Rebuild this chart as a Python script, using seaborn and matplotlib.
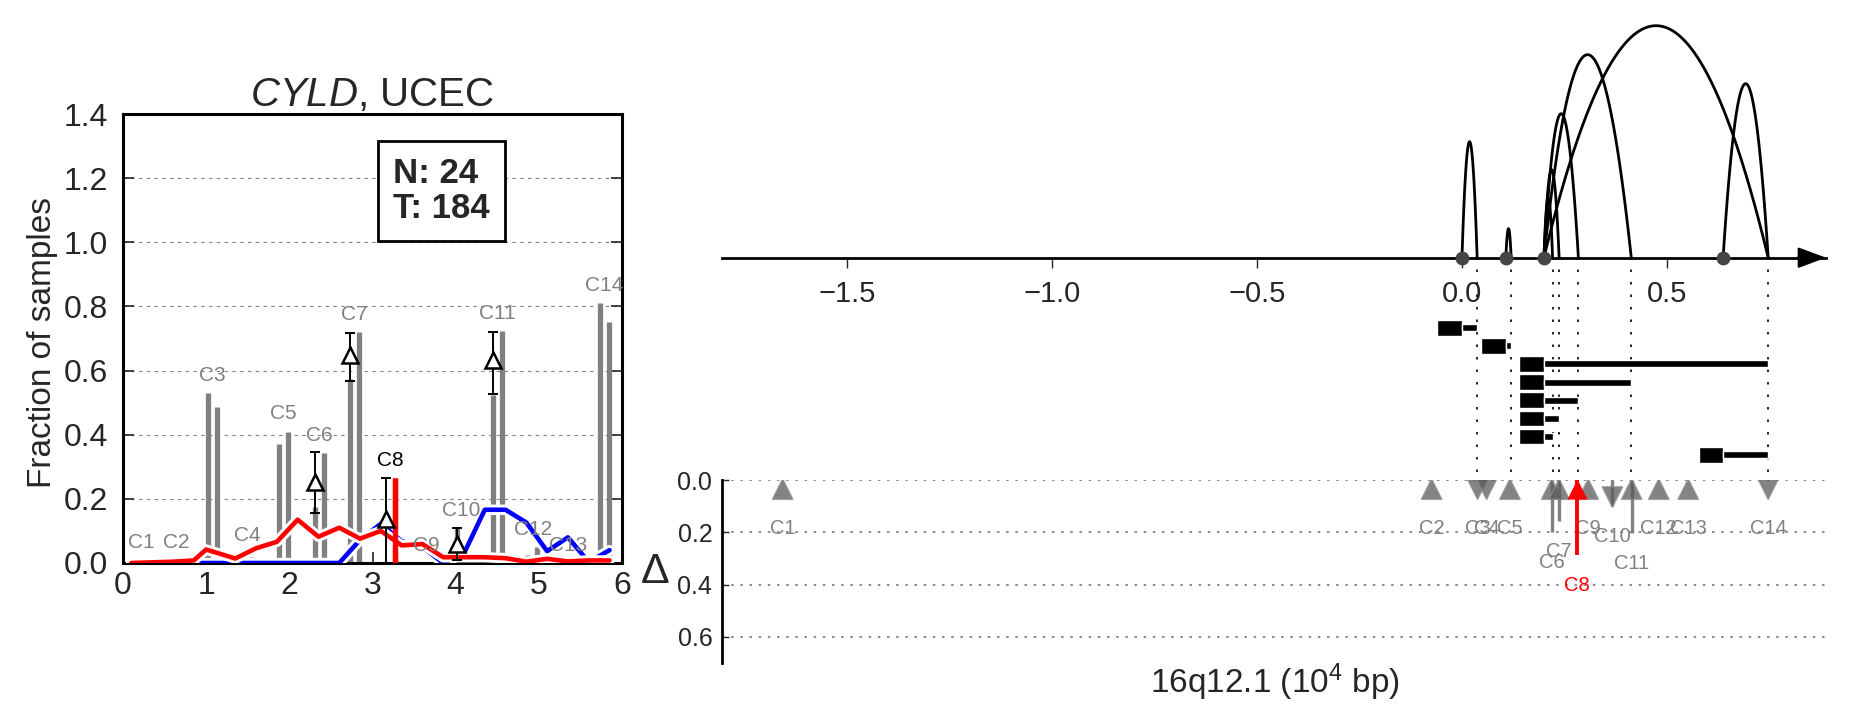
import numpy as np
import pandas as pd
import matplotlib
matplotlib.use("Agg")
import matplotlib.pyplot as plt
import matplotlib.patheffects as pe
import seaborn as sns

sns.set_theme(style="ticks")
plt.rcParams['font.family'] = ['Liberation Sans', 'DejaVu Sans']
plt.rcParams['mathtext.fontset'] = 'custom'
plt.rcParams['mathtext.rm'] = 'Liberation Sans'
plt.rcParams['mathtext.it'] = 'Liberation Sans:italic'

## left panel data
clusters = ['C1', 'C2', 'C3', 'C4', 'C5', 'C6', 'C7', 'C8', 'C9', 'C10', 'C11', 'C12', 'C13', 'C14']
frac_normal = [0.01, 0.01, 0.53, 0.03, 0.37, 0.176, 0.575, 0.0, 0.0, 0.108, 0.524, 0.025, 0.0, 0.81]
frac_tumor = [0.0, 0.0, 0.485, 0.02, 0.41, 0.344, 0.72, 0.264, 0.0, 0.01, 0.722, 0.05, 0.0, 0.75]
signif = ['C8']

mark_clusters = ['C6', 'C7', 'C8', 'C10', 'C11']
mark_mid = [0.254, 0.649, 0.136, 0.06, 0.633]
mark_lo = [0.155, 0.569, 0.0, 0.01, 0.526]
mark_hi = [0.347, 0.718, 0.265, 0.108, 0.721]

bin_x = [0.1, 0.35, 0.6, 0.85, 1.0, 1.35, 1.6, 1.85, 2.1, 2.35, 2.6, 2.85,
         3.1, 3.35, 3.6, 3.85, 4.1, 4.35, 4.6, 4.85, 5.1, 5.35, 5.6, 5.85]
red_frac = [0.0, 0.002, 0.004, 0.008, 0.042, 0.014, 0.046, 0.066, 0.135, 0.082, 0.11, 0.076,
            0.1, 0.055, 0.059, 0.018, 0.018, 0.018, 0.015, 0.004, 0.013, 0.005, 0.008, 0.008]
blue_frac = [0.0, 0.0, 0.0, 0.0, 0.0, 0.0, 0.0, 0.0, 0.0, 0.0, 0.0, 0.072,
             0.122, 0.068, 0.05, 0.0, 0.03, 0.166, 0.166, 0.126, 0.037, 0.08, 0.003, 0.04]
n_normal = 24
n_tumor = 184

## right panel data
arc_start = [0.0, 0.107, 0.2, 0.2, 0.2, 0.2, 0.2, 0.637]
arc_end = [0.037, 0.12, 0.747, 0.413, 0.284, 0.237, 0.221, 0.747]
arc_height = [116, 29, 232, 203, 144, 88, 60, 174]

bp_pos = [-1.657, -0.074, 0.038, 0.06, 0.117, 0.219, 0.237, 0.28, 0.308, 0.367, 0.414, 0.48, 0.552, 0.747]
bp_delta = [0.0, 0.0, -0.01, -0.01, 0.0, 0.2, 0.157, 0.287, 0.0, -0.1, 0.204, 0.0, 0.0, -0.01]

W, H = 1851, 718
fig = plt.figure(figsize=(W / 100, H / 100), dpi=100)


def px_rect(x0, y0, x1, y1):
    return [x0 / W, 1 - y1 / H, (x1 - x0) / W, (y1 - y0) / H]


# ---------------- left panel
ax = fig.add_axes(px_rect(123, 114, 622, 563))
step = 6 / len(clusters)
centers = np.array([(i + 0.5) * step for i in range(len(clusters))])
xn = centers - 0.054
xt = centers + 0.054

ax.vlines(xn, 0, frac_normal, color='#808080', lw=3.8, zorder=2)
tcol = ['red' if c in signif else '#808080' for c in clusters]
ax.vlines(xt, 0, frac_tumor, color=tcol, lw=3.8, zorder=2)

halo = [pe.Stroke(linewidth=7.5, foreground='white'), pe.Normal()]
sns.lineplot(x=bin_x, y=blue_frac, ax=ax, color='blue', lw=3.3, zorder=3)
ax.lines[-1].set_path_effects(halo)
sns.lineplot(x=bin_x, y=red_frac, ax=ax, color='red', lw=3.3, zorder=4)
ax.lines[-1].set_path_effects(halo)

# significant tumor bar on top
for c, x, f in zip(clusters, xt, frac_tumor):
    if c in signif:
        ax.vlines(x, 0, f, color='red', lw=3.8, zorder=4.5)

idx = [clusters.index(c) for c in mark_clusters]
mx = xn[idx]
mid = np.array(mark_mid)
ax.errorbar(mx, mid, yerr=[mid - np.array(mark_lo), np.array(mark_hi) - mid], fmt='none',
            ecolor='black', elinewidth=1.4, capsize=3.5, capthick=1.4, zorder=5)
ax.plot(mx, mid, linestyle='none', marker='^', ms=12, mfc='white', mec='black', mew=1.8, zorder=6)

for c, x, a, b in zip(clusters, centers, frac_normal, frac_tumor):
    ax.text(x, max(a, b) + 0.055, c, ha='center', va='center', fontsize=15,
            color='black' if c in signif else '#808080', zorder=7)

ax.text(3.83, 1.16, f'N: {n_normal}\nT: {n_tumor}', ha='center', va='center', fontsize=25,
        fontweight='bold', multialignment='left', linespacing=1.1,
        bbox=dict(boxstyle='square,pad=0.45', fc='white', ec='black', lw=2))

ax.set_xlim(0, 6)
ax.set_ylim(0, 1.4)
ax.set_xticks(range(7))
ax.set_yticks(np.arange(0, 1.41, 0.2))
ax.set_yticklabels([f'{v:.1f}' for v in np.arange(0, 1.41, 0.2)])
ax.tick_params(axis='y', left=True, right=True, direction='in', length=8, width=1.2,
               labelsize=23, pad=11)
ax.tick_params(axis='x', bottom=True, top=False, direction='in', length=8, width=1.2,
               labelsize=23, pad=6)
ax.yaxis.grid(True, linestyle=(0, (3, 4)), color='gray', lw=0.8)
for s in ax.spines.values():
    s.set_color('black')
    s.set_linewidth(2.2)
ax.set_title(r'$\mathit{CYLD}$, UCEC', fontsize=29, pad=4)
fig.text(42 / W, 1 - 342 / H, 'Fraction of samples', rotation=90, ha='center', va='center',
         fontsize=24)

# ---------------- right top panel (arcs + reads)
xlo, xhi = -1.805, 0.888
axt = fig.add_axes(px_rect(722, 10, 1826, 472))
axt.set_xlim(xlo, xhi)
axt.set_ylim(257.7 - 472, 257.7 - 10)
for s0, s1, h in zip(arc_start, arc_end, arc_height):
    xx = np.linspace(s0, s1, 120)
    m, r = (s0 + s1) / 2, (s1 - s0) / 2
    axt.plot(xx, h * (1 - ((xx - m) / r) ** 2), color='black', lw=2, zorder=3)

axt.vlines(sorted(set(arc_end)), 257.7 - 472, 0, color='black', lw=1.2,
           linestyles=[(0, (1.5, 6))], zorder=1)
axt.scatter(sorted(set(arc_start)), [0] * len(set(arc_start)), s=100, color='#454545',
            zorder=5, linewidths=0)

row_y = [-70 - 18.14 * i for i in range(len(arc_start))]
block_w = 0.06
axt.barh(row_y, block_w, left=np.array(arc_start) - block_w, height=15.7, color='black', zorder=4)
axt.barh(row_y, np.array(arc_end) - np.array(arc_start), left=arc_start, height=7,
         color='black', zorder=4)

for side in ['top', 'right', 'left']:
    axt.spines[side].set_visible(False)
axt.spines['bottom'].set_position(('data', 0))
axt.spines['bottom'].set_linewidth(2)
axt.spines['bottom'].set_color('black')
axt.set_yticks([])
axt.set_xticks([-1.5, -1.0, -0.5, 0.0, 0.5])
axt.set_xticklabels(['\u22121.5', '\u22121.0', '\u22120.5', '0.0', '0.5'])
axt.tick_params(axis='x', direction='out', length=7, width=1, labelsize=21, pad=9)
axt.annotate('', xy=(xhi, 0), xytext=(xhi - 0.07, 0),
             arrowprops=dict(arrowstyle='-|>,head_length=1.75,head_width=0.65', color='black',
                             lw=1.5, mutation_scale=10, shrinkA=0, shrinkB=0),
             annotation_clip=False)
axt.patch.set_alpha(0)

# ---------------- right bottom panel (delta)
axd = fig.add_axes(px_rect(722, 480, 1826, 663))
axd.set_xlim(xlo, xhi)
axd.set_ylim(0.7, 0.0)
dfd = pd.DataFrame({'name': clusters, 'pos': bp_pos, 'delta': bp_delta})
dfd['dir'] = np.where(dfd['delta'] >= 0, 'up', 'down')
dfd['ym'] = np.where(dfd['delta'] < -0.05, 0.065, 0.035)
dfd['sig'] = dfd['name'].isin(signif)

axd.yaxis.grid(True, linestyle=(0, (1.5, 4)), color='#777777', lw=1.2)
big = dfd[(dfd['delta'].abs() > 0.05) & ~dfd['sig']]
axd.vlines(big['pos'], 0, big['delta'].abs(), color='#808080', lw=2.4, zorder=2)
sns.scatterplot(data=dfd[~dfd['sig']], x='pos', y='ym', style='dir', markers={'up': '^', 'down': 'v'},
                color='#5a5a5a', alpha=0.75, s=210, edgecolor='#888888', linewidth=1.2,
                legend=False, ax=axd, zorder=3)
sig = dfd[dfd['sig']]
axd.vlines(sig['pos'], 0, sig['delta'], color='red', lw=2.8, zorder=4)
axd.scatter(sig['pos'], sig['ym'], marker='^', s=210, color='red', linewidths=0, zorder=5)

for _, row in dfd.iterrows():
    axd.text(row['pos'], max(0.185, abs(row['delta']) + 0.115), row['name'], ha='center',
             va='center', fontsize=14.5, color='red' if row['sig'] else '#808080')

for side in ['top', 'right', 'bottom']:
    axd.spines[side].set_visible(False)
axd.spines['left'].set_color('black')
axd.spines['left'].set_linewidth(2)
axd.set_xticks([])
axd.set_yticks([0.0, 0.2, 0.4, 0.6])
axd.set_yticklabels(['0.0', '0.2', '0.4', '0.6'])
axd.tick_params(axis='y', direction='in', length=5, width=1, labelsize=18, pad=7)
axd.set_xlabel('')
axd.set_ylabel('')
fig.text(655 / W, 1 - 572 / H, '\u0394', ha='center', va='center', fontsize=31)
fig.text(1275 / W, 1 - 682 / H, '16q12.1 (10$^4$ bp)', ha='center', va='center', fontsize=24)

fig.savefig('out.png', dpi=100)
